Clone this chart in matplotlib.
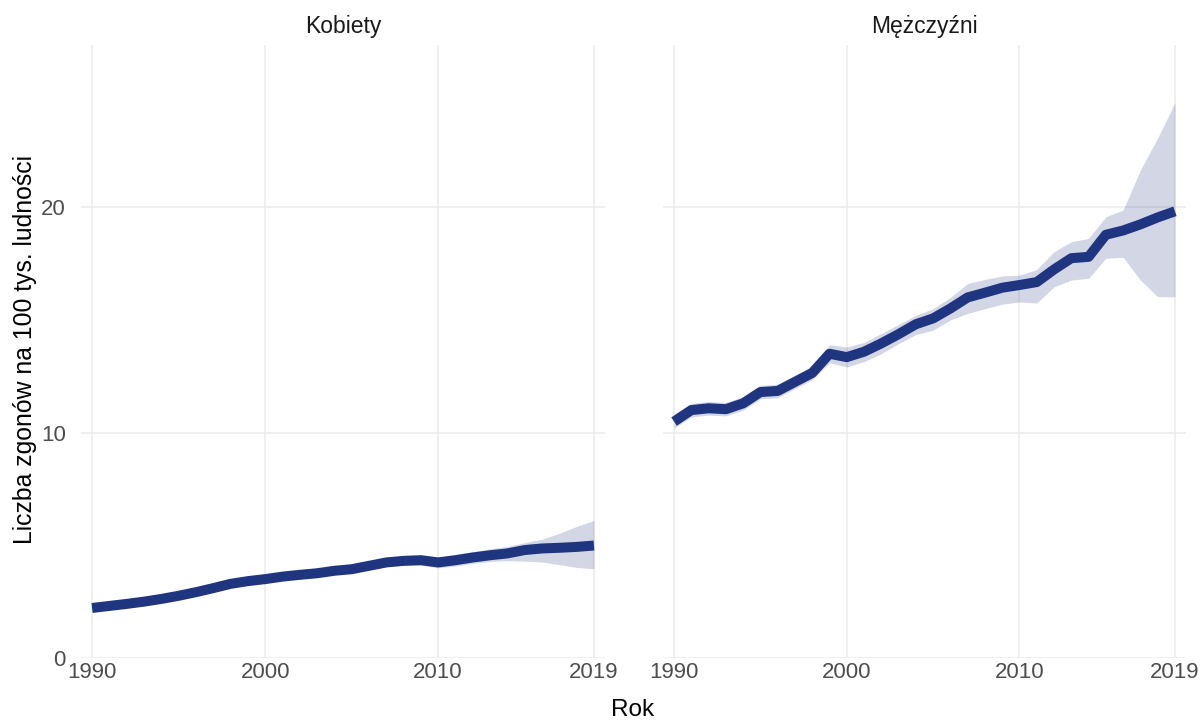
import matplotlib
matplotlib.use("Agg")
import matplotlib.pyplot as plt
import numpy as np

years = list(range(1990, 2020))

panels = ["Kobiety", "Mężczyźni"]

women = [2.22, 2.31, 2.40, 2.50, 2.62, 2.76, 2.92, 3.10, 3.29, 3.41,
         3.50, 3.61, 3.69, 3.76, 3.87, 3.94, 4.09, 4.24, 4.31, 4.34,
         4.24, 4.34, 4.46, 4.56, 4.64, 4.79, 4.86, 4.89, 4.93, 4.99]
women_lo = [2.14, 2.23, 2.32, 2.42, 2.54, 2.67, 2.83, 3.01, 3.19, 3.31,
            3.38, 3.48, 3.56, 3.62, 3.72, 3.78, 3.92, 4.06, 4.12, 4.12,
            4.00, 4.08, 4.20, 4.28, 4.32, 4.30, 4.26, 4.14, 4.02, 3.96]
women_hi = [2.30, 2.39, 2.48, 2.58, 2.70, 2.85, 3.01, 3.19, 3.39, 3.51,
            3.62, 3.74, 3.82, 3.90, 4.02, 4.10, 4.26, 4.42, 4.50, 4.56,
            4.48, 4.60, 4.72, 4.84, 4.95, 5.12, 5.27, 5.53, 5.84, 6.10]

men = [10.49, 11.00, 11.08, 11.04, 11.30, 11.80, 11.85, 12.25, 12.65, 13.50,
       13.35, 13.59, 13.96, 14.37, 14.81, 15.07, 15.51, 16.00, 16.21, 16.43,
       16.55, 16.68, 17.24, 17.74, 17.80, 18.78, 18.97, 19.24, 19.55, 19.82]
men_lo = [10.20, 10.70, 10.78, 10.74, 11.00, 11.50, 11.55, 11.95, 12.35, 13.10,
          12.92, 13.15, 13.50, 13.95, 14.35, 14.55, 15.00, 15.29, 15.50, 15.70,
          15.80, 15.75, 16.47, 16.77, 16.85, 17.74, 17.78, 16.77, 16.03, 16.03]
men_hi = [10.80, 11.30, 11.38, 11.34, 11.60, 12.10, 12.15, 12.55, 12.95, 13.90,
          13.80, 14.00, 14.40, 14.80, 15.21, 15.50, 16.00, 16.62, 16.80, 16.95,
          16.99, 17.24, 18.03, 18.47, 18.62, 19.58, 19.88, 21.65, 23.08, 24.64]

x_ticks = [1990, 2000, 2010, 2019]
y_ticks = [0, 10, 20]

plt.rcParams['font.family'] = ['Liberation Sans', 'DejaVu Sans']

line_color = '#1f3580'
grid_color = '#ebebeb'

W, H = 1203, 722
fig = plt.figure(figsize=(W / 100, H / 100), dpi=100)

def frac_box(x0, y0, x1, y1):
    return [x0 / W, 1 - y1 / H, (x1 - x0) / W, (y1 - y0) / H]

axes = [fig.add_axes(frac_box(81, 45, 605, 658)),
        fig.add_axes(frac_box(663, 45, 1186, 658))]

data = [(women, women_lo, women_hi), (men, men_lo, men_hi)]

for i, (ax, title, (val, lo, hi)) in enumerate(zip(axes, panels, data)):
    ax.fill_between(years, lo, hi, color=line_color, alpha=0.2, linewidth=0, zorder=2)
    ax.plot(years, val, color=line_color, linewidth=7.2, solid_capstyle='butt',
            solid_joinstyle='round', zorder=3)
    ax.set_xlim(1989.36, 2019.64)
    ax.set_ylim(0, 27.2)
    ax.set_xticks(x_ticks)
    ax.set_yticks(y_ticks)
    ax.grid(True, color=grid_color, linewidth=1.1, zorder=0)
    ax.set_axisbelow(True)
    for s in ax.spines.values():
        s.set_visible(False)
    ax.tick_params(length=0, labelsize=16, labelcolor='#4d4d4d', pad=3)
    ax.tick_params(axis='y', pad=11)
    if i == 1:
        ax.tick_params(axis='y', labelleft=False)
    ax.set_title(title, fontsize=16.5, color='#1a1a1a', pad=9)

fig.text(633 / W, 1 - 710 / H, "Rok", ha='center', va='center', fontsize=17.5)
fig.text(25 / W, 1 - 350 / H, "Liczba zgonów na 100 tys. ludności", ha='center',
         va='center', rotation=90, fontsize=17.8)

fig.savefig("out.png", dpi=100)
